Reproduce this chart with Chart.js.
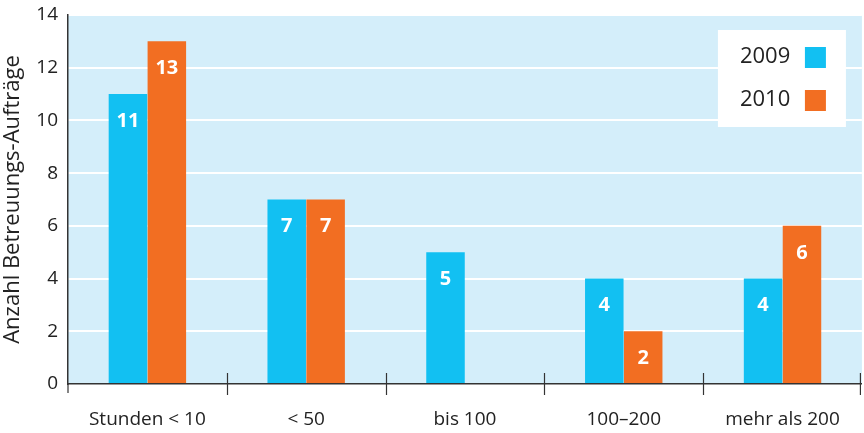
<!DOCTYPE html>
<html>
<head>
<meta charset="utf-8">
<script src="https://cdn.jsdelivr.net/npm/chart.js@4"></script>
<style>
  html, body { margin: 0; padding: 0; background: #fff; }
  #wrap { width: 864px; height: 433px; }
</style>
</head>
<body>
<div id="wrap"><canvas id="chart"></canvas></div>
<script>
// chart data
const categories = ['Stunden < 10', '< 50', 'bis 100', '100–200', 'mehr als 200'];
const values2009 = [11, 7, 5, 4, 4];
const values2010 = [13, 7, null, 2, 6];
const yTicks = [0, 2, 4, 6, 8, 10, 12, 14];

const FONT = '"Open Sans", Lato, sans-serif';

// light blue plot background + x tick marks across the axis
const plotBg = {
  id: 'plotBg',
  beforeDraw(chart) {
    const { ctx, chartArea: a } = chart;
    ctx.save();
    ctx.fillStyle = '#d4eefa';
    ctx.fillRect(a.left, a.top, a.right - a.left, a.bottom - a.top);
    ctx.restore();
  },
  afterDraw(chart) {
    const { ctx, chartArea: a } = chart;
    const x = chart.scales.x;
    ctx.save();
    ctx.strokeStyle = '#333';
    ctx.lineWidth = 1.2;
    for (let i = 1; i <= categories.length; i++) {
      const px = Math.round((x.getPixelForValue(i - 1) + x.getPixelForValue(i)) / 2) + 0.5;
      const edge = i === categories.length ? a.right - 1.5 : px;
      ctx.beginPath();
      ctx.moveTo(edge, a.bottom - 11);
      ctx.lineTo(edge, a.bottom + 11);
      ctx.stroke();
    }
    ctx.beginPath();
    ctx.moveTo(a.left, a.bottom);
    ctx.lineTo(a.left, a.bottom + 9);
    ctx.stroke();
    ctx.restore();
  }
};

// white value labels inside the bars
const barLabels = {
  id: 'barLabels',
  afterDatasetsDraw(chart) {
    const { ctx } = chart;
    ctx.save();
    ctx.fillStyle = '#fff';
    ctx.font = 'bold 20px ' + FONT;
    ctx.textAlign = 'center';
    ctx.textBaseline = 'middle';
    chart.data.datasets.forEach((ds, di) => {
      chart.getDatasetMeta(di).data.forEach((bar, i) => {
        const v = ds.data[i];
        if (v == null) return;
        ctx.fillText(String(v), bar.x, bar.y + 27);
      });
    });
    ctx.restore();
  }
};

// white legend box, text left, swatch right
const boxLegend = {
  id: 'boxLegend',
  afterDraw(chart) {
    const { ctx, chartArea: a } = chart;
    const bx = a.right - 144, by = a.top + 15, bw = 128, bh = 97;
    ctx.save();
    ctx.fillStyle = '#fff';
    ctx.fillRect(bx, by, bw, bh);
    ctx.font = '22px ' + FONT;
    ctx.textAlign = 'left';
    ctx.textBaseline = 'middle';
    chart.data.datasets.forEach((ds, i) => {
      const cy = by + 27 + i * 43;
      ctx.fillStyle = '#222';
      ctx.fillText(ds.label, bx + 22, cy);
      ctx.fillStyle = ds.backgroundColor;
      ctx.fillRect(bx + 87, cy - 10, 21, 21);
    });
    ctx.restore();
  }
};

new Chart(document.getElementById('chart'), {
  type: 'bar',
  data: {
    labels: categories,
    datasets: [
      { label: '2009', data: values2009, backgroundColor: '#12c0f2' },
      { label: '2010', data: values2010, backgroundColor: '#f26e22' }
    ]
  },
  options: {
    responsive: true,
    maintainAspectRatio: false,
    animation: false,
    layout: { padding: { top: 0, right: 2, left: 0, bottom: 0 } },
    datasets: {
      bar: { categoryPercentage: 0.49, barPercentage: 0.99, skipNull: false }
    },
    plugins: {
      legend: { display: false },
      tooltip: { enabled: false }
    },
    scales: {
      x: {
        offset: true,
        grid: { display: false, drawTicks: false },
        border: { display: true, color: '#333', width: 1.5 },
        ticks: {
          color: '#222',
          font: { family: FONT, size: 19 },
          padding: 24
        },
        afterFit(scale) { scale.height = 49; }
      },
      y: {
        min: 0,
        max: 14,
        afterBuildTicks(scale) { scale.ticks = yTicks.map(v => ({ value: v })); },
        grid: { color: '#ffffff', lineWidth: 2, drawTicks: false },
        border: { display: true, color: '#333', width: 1.5 },
        ticks: {
          color: '#222',
          font: { family: FONT, size: 19 },
          padding: 10
        },
        title: {
          display: true,
          text: 'Anzahl Betreuungs-Aufträge',
          color: '#222',
          font: { family: FONT, size: 22 },
          padding: { top: 0, bottom: 2 }
        },
        afterFit(scale) {
          scale.width = 68;
          scale.paddingTop = 15;
          scale.paddingBottom = 0;
        }
      }
    }
  },
  plugins: [plotBg, barLabels, boxLegend]
});
</script>
</body>
</html>
